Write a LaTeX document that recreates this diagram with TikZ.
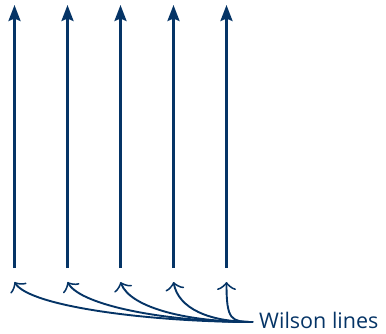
\documentclass[tikz,border=0pt]{standalone}
\usepackage{fontspec}
\setsansfont{Open Sans}
\usetikzlibrary{arrows.meta}
\definecolor{wlNavy}{HTML}{053466}
\tikzset{
  every picture/.style={font=\sffamily, text=wlNavy},
  wl line/.style={-{Stealth[length=16pt,width=12pt,inset=2.5pt]},
    draw=wlNavy, line width=2.6pt},
  wl pointer/.style={-{Classical TikZ Rightarrow[length=8pt,width=19pt]},
    draw=wlNavy, line width=1.9pt},
  wl label/.style={anchor=west, inner sep=0pt, font=\sffamily\fontsize{21.5}{26}\selectfont}
}
\begin{document}
\begin{tikzpicture}[x=1pt,y=1pt]
  \useasboundingbox (0,0) rectangle (386,333);
  % the five lines
  \foreach \i in {0,...,4} {
    \coordinate (b\i) at (14.5+53*\i,65);
    \coordinate (t\i) at (14.5+53*\i,328);
    \coordinate (w\i) at (14.5+53*\i,51);
    \draw[wl line] (b\i) -- (t\i);
  }
  \node[wl label] (lbl) at (259,13) {Wilson lines};
  \coordinate (hub) at (253,11);
  % pointers to the lines
  \foreach \i/\h/\dx/\dy in {0/100/16/25,1/85/14/24,2/65/10/26,3/45/5/26,4/22/0/38}
    \draw[wl pointer] (hub) .. controls +(-\h,0) and +(\dx,-\dy) .. (w\i);
\end{tikzpicture}
\end{document}
